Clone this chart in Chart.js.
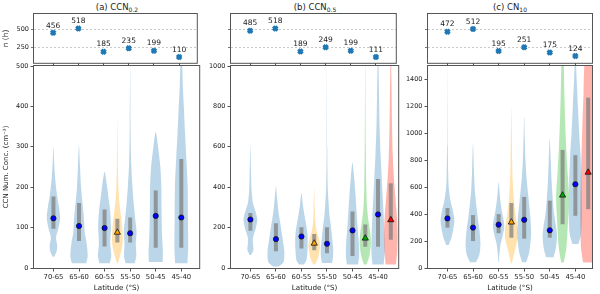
<!DOCTYPE html>
<html lang="en">
<head>
<meta charset="UTF-8">
<title>CCN violins</title>
<script src="https://cdn.jsdelivr.net/npm/chart.js@4.4.1/dist/chart.umd.min.js"></script>
<style>
    body { margin: 0; padding: 0; background: #fff; font-family: "DejaVu Sans", sans-serif; }
    #fig { position: relative; width: 600px; height: 294px; overflow: hidden; }
    #fig canvas { position: absolute; }
    .ttl { position: absolute; top: 2px; width: 120px; font-size: 8.5px; color: #222; text-align: center; white-space: nowrap; }
    .ttl sub { font-size: 6px; vertical-align: -2px; }
</style>
</head>
<body>
<div id="fig">
    <div class="ttl" style="left:57px">(a) CCN<sub>0.2</sub></div>
    <div class="ttl" style="left:255px">(b) CCN<sub>0.5</sub></div>
    <div class="ttl" style="left:450px">(c) CN<sub>10</sub></div>
    <canvas id="top0" width="204" height="70" style="left:0;top:0"></canvas>
    <canvas id="top1" width="203" height="70" style="left:200px;top:0"></canvas>
    <canvas id="top2" width="200" height="70" style="left:400px;top:0"></canvas>
    <canvas id="main0" width="204" height="234" style="left:0;top:60px"></canvas>
    <canvas id="main1" width="203" height="234" style="left:200px;top:60px"></canvas>
    <canvas id="main2" width="200" height="234" style="left:400px;top:60px"></canvas>
</div>
<script>
// latitude bands (category index 0..5)
const latBands = ['70-65', '65-60', '60-55', '55-50', '50-45', '45-40'];

// sampling hours per band
const hoursA = [456, 518, 185, 235, 199, 110];
const hoursB = [485, 518, 189, 249, 199, 111];
const hoursC = [472, 512, 195, 251, 175, 124];

// violins: band position, subset, median, quartiles, density profile [conc, half width]
const violinsA = [
    {x: 0, kind: 'all', med: 123, q1: 97, q3: 177, prof: [[28, 0.03], [40, 0.12], [55, 0.15], [75, 0.1], [100, 0.2], [125, 0.26], [150, 0.22], [180, 0.14], [220, 0.07], [260, 0.03], [300, 0]]},
    {x: 1, kind: 'all', med: 104, q1: 67, q3: 161, prof: [[12, 0.28], [30, 0.34], [60, 0.3], [90, 0.22], [115, 0.2], [140, 0.17], [170, 0.12], [200, 0.08], [250, 0.04], [305, 0]]},
    {x: 2, kind: 'all', med: 99, q1: 53, q3: 145, prof: [[12, 0.2], [30, 0.26], [60, 0.22], [100, 0.25], [140, 0.22], [170, 0.16], [200, 0.1], [238, 0]]},
    {x: 2.5, kind: 'orange', med: 88, q1: 63, q3: 122, prof: [[12, 0.02], [30, 0.1], [50, 0.18], [70, 0.21], [100, 0.19], [130, 0.14], [160, 0.08], [200, 0.04], [250, 0.02], [380, 0]]},
    {x: 3, kind: 'all', med: 86, q1: 63, q3: 125, prof: [[12, 0.18], [30, 0.24], [60, 0.22], [90, 0.25], [120, 0.2], [160, 0.14], [200, 0.09], [260, 0.04], [350, 0.015], [520, 0]]},
    {x: 4, kind: 'all', med: 129, q1: 50, q3: 192, prof: [[15, 0.27], [40, 0.28], [80, 0.25], [130, 0.23], [200, 0.22], [250, 0.18], [300, 0.09], [337, 0]]},
    {x: 5, kind: 'all', med: 125, q1: 50, q3: 270, prof: [[12, 0.24], [50, 0.27], [120, 0.26], [200, 0.25], [270, 0.2], [330, 0.15], [400, 0.1], [450, 0.06], [500, 0.04], [600, 0]]}
];
const violinsB = [
    {x: 0, kind: 'all', med: 240, q1: 185, q3: 272, prof: [[64, 0.03], [90, 0.12], [120, 0.1], [150, 0.1], [190, 0.2], [240, 0.27], [280, 0.2], [320, 0.1], [380, 0.05], [450, 0.03], [610, 0]]},
    {x: 1, kind: 'all', med: 143, q1: 83, q3: 222, prof: [[7, 0.1], [30, 0.3], [80, 0.33], [130, 0.28], [180, 0.22], [230, 0.16], [280, 0.1], [340, 0.05], [403, 0]]},
    {x: 2, kind: 'all', med: 156, q1: 97, q3: 202, prof: [[17, 0.1], [40, 0.2], [100, 0.24], [160, 0.24], [210, 0.19], [260, 0.12], [310, 0.06], [373, 0]]},
    {x: 2.5, kind: 'orange', med: 122, q1: 88, q3: 168, prof: [[17, 0.03], [50, 0.15], [100, 0.22], [140, 0.2], [180, 0.1], [230, 0.04], [300, 0.02], [400, 0]]},
    {x: 3, kind: 'all', med: 120, q1: 73, q3: 202, prof: [[25, 0.2], [60, 0.24], [100, 0.24], [150, 0.2], [200, 0.16], [260, 0.1], [330, 0.06], [400, 0.03], [600, 0.012], [1000, 0]]},
    {x: 4, kind: 'all', med: 186, q1: 60, q3: 280, prof: [[17, 0.22], [60, 0.26], [120, 0.25], [200, 0.2], [280, 0.16], [360, 0.12], [440, 0.07], [522, 0]]},
    {x: 4.5, kind: 'green', med: 147, q1: 105, q3: 215, prof: [[17, 0.05], [60, 0.16], [120, 0.22], [170, 0.2], [230, 0.13], [300, 0.07], [400, 0.04], [600, 0.02], [1050, 0]]},
    {x: 5, kind: 'all', med: 265, q1: 105, q3: 440, prof: [[17, 0.22], [80, 0.26], [160, 0.25], [260, 0.22], [360, 0.18], [460, 0.14], [560, 0.1], [700, 0.06], [850, 0.04], [1000, 0.02], [1100, 0]]},
    {x: 5.5, kind: 'red', med: 238, q1: 140, q3: 420, prof: [[17, 0.2], [80, 0.25], [160, 0.27], [250, 0.24], [350, 0.18], [450, 0.12], [550, 0.08], [700, 0.05], [900, 0.03], [1100, 0]]}
];
const violinsC = [
    {x: 0, kind: 'all', med: 368, q1: 300, q3: 445, prof: [[171, 0.05], [220, 0.15], [280, 0.22], [350, 0.27], [420, 0.22], [500, 0.12], [600, 0.05], [700, 0.03], [900, 0.015], [1500, 0]]},
    {x: 1, kind: 'all', med: 300, q1: 200, q3: 393, prof: [[42, 0.12], [100, 0.25], [180, 0.29], [280, 0.25], [380, 0.18], [480, 0.12], [580, 0.07], [700, 0.04], [928, 0]]},
    {x: 2, kind: 'all', med: 322, q1: 258, q3: 400, prof: [[42, 0.01], [100, 0.03], [180, 0.08], [240, 0.16], [300, 0.22], [350, 0.2], [420, 0.13], [500, 0.07], [580, 0.03], [638, 0]]},
    {x: 2.5, kind: 'orange', med: 340, q1: 225, q3: 483, prof: [[35, 0.02], [120, 0.12], [220, 0.25], [300, 0.24], [400, 0.16], [500, 0.1], [650, 0.05], [800, 0.03], [1200, 0]]},
    {x: 3, kind: 'all', med: 358, q1: 218, q3: 528, prof: [[42, 0.08], [120, 0.2], [250, 0.27], [380, 0.24], [500, 0.18], [650, 0.1], [800, 0.05], [950, 0.025], [1126, 0]]},
    {x: 4, kind: 'all', med: 280, q1: 225, q3: 500, prof: [[80, 0.15], [150, 0.24], [230, 0.28], [300, 0.25], [400, 0.17], [500, 0.12], [650, 0.07], [800, 0.04], [965, 0]]},
    {x: 4.5, kind: 'green', med: 540, q1: 325, q3: 877, prof: [[40, 0.05], [150, 0.15], [300, 0.2], [450, 0.24], [550, 0.25], [700, 0.2], [900, 0.14], [1100, 0.1], [1300, 0.07], [1500, 0.05], [1700, 0]]},
    {x: 5, kind: 'all', med: 622, q1: 388, q3: 838, prof: [[179, 0.12], [250, 0.22], [400, 0.26], [550, 0.25], [700, 0.23], [850, 0.2], [1000, 0.15], [1200, 0.1], [1400, 0.05], [1600, 0]]},
    {x: 5.5, kind: 'red', med: 710, q1: 437, q3: 1265, prof: [[40, 0.2], [150, 0.28], [300, 0.3], [500, 0.3], [700, 0.28], [900, 0.25], [1100, 0.22], [1300, 0.18], [1500, 0.15], [1700, 0]]}
];

const fillCol = {all: 'rgba(31,119,180,0.3)', orange: 'rgba(255,165,0,0.32)', green: 'rgba(40,185,40,0.35)', red: 'rgba(255,60,40,0.38)'};
const markCol = {all: '#0000ff', orange: '#ffa500', green: '#00a800', red: '#ff0000'};

Chart.defaults.font.family = '"DejaVu Sans", sans-serif';
Chart.defaults.color = '#222';
Chart.defaults.animation = false;
Chart.defaults.events = [];
Chart.defaults.plugins.legend.display = false;
Chart.defaults.plugins.tooltip.enabled = false;

// box round every axes
const frame = {
    id: 'frame',
    afterDraw(chart) {
        const a = chart.chartArea, ctx = chart.ctx;
        ctx.save();
        ctx.strokeStyle = '#555';
        ctx.lineWidth = 1;
        ctx.strokeRect(a.left - 0.5, a.top - 0.5, a.right - a.left + 1, a.bottom - a.top + 1);
        ctx.restore();
    }
};

// hour counts written above markers
const countLabels = {
    id: 'countLabels',
    afterDatasetsDraw(chart) {
        const ctx = chart.ctx;
        const ds = chart.data.datasets[0];
        ctx.save();
        ctx.font = '7.5px "DejaVu Sans"';
        ctx.fillStyle = '#222';
        ctx.textAlign = 'center';
        ctx.textBaseline = 'bottom';
        chart.getDatasetMeta(0).data.forEach((pt, i) => {
            ctx.fillText(ds.data[i].y, pt.x, pt.y - 3.5);
        });
        ctx.restore();
    }
};

function bandTicks(scale) {
    scale.ticks = latBands.map((b, i) => ({value: i}));
}

function topChart(id, hours, axW, padR, xMax, showLabels) {
    new Chart(document.getElementById(id), {
        type: 'scatter',
        data: {
            datasets: [{
                data: hours.map((h, i) => ({x: i, y: h})),
                pointStyle: 'crossRot',
                pointRadius: 3,
                borderWidth: 3.2,
                borderColor: '#1f77b4',
                backgroundColor: '#1f77b4'
            }]
        },
        options: {
            responsive: false,
            layout: {padding: {top: 14, right: padR, left: 0, bottom: 0}},
            scales: {
                x: {
                    min: -0.76, max: xMax,
                    afterBuildTicks: bandTicks,
                    afterFit: s => { s.height = 4; },
                    ticks: {display: false},
                    grid: {drawOnChartArea: false, tickLength: 3, color: '#555'},
                    border: {display: false}
                },
                y: {
                    min: 27, max: 725,
                    afterBuildTicks: s => { s.ticks = [{value: 250}, {value: 500}]; },
                    afterFit: s => { s.width = axW; },
                    ticks: {display: showLabels, font: {size: 6.5}, padding: 2, callback: v => String(v)},
                    title: {display: showLabels, text: 'n (h)', font: {size: 7.5}, padding: {top: 2, bottom: 0}},
                    grid: {color: '#bbb', lineWidth: 0.8, tickLength: 3, tickColor: '#555', tickBorderDash: []},
                    border: {display: false, dash: [2, 2]}
                }
            }
        },
        plugins: [frame, countLabels]
    });
}

function violinSets(list) {
    const sets = [];
    list.forEach(v => {
        const left = v.prof.map(p => ({x: v.x - p[1], y: p[0]}));
        const right = v.prof.slice(0, -1).reverse().map(p => ({x: v.x + p[1], y: p[0]}));
        sets.push({
            type: 'line', data: left.concat(right), fill: 'shape',
            backgroundColor: fillCol[v.kind], borderWidth: 0, borderColor: 'rgba(0,0,0,0)',
            pointRadius: 0, tension: 0.25, order: 3
        });
        sets.push({
            type: 'line', data: [{x: v.x, y: v.q1}, {x: v.x, y: v.q3}], fill: false,
            borderColor: 'rgba(128,128,128,0.75)', borderWidth: 4, borderCapStyle: 'butt',
            pointRadius: 0, order: 2
        });
        sets.push({
            type: 'scatter', data: [{x: v.x, y: v.med}],
            pointStyle: v.kind === 'all' ? 'circle' : 'triangle',
            pointRadius: v.kind === 'all' ? 2.6 : 3.6,
            backgroundColor: markCol[v.kind], borderColor: '#111', borderWidth: 0.8, order: 1
        });
    });
    return sets;
}

function mainChart(id, list, axW, padR, xMax, yMax, step, showTitle) {
    new Chart(document.getElementById(id), {
        type: 'scatter',
        data: {datasets: violinSets(list)},
        options: {
            responsive: false,
            layout: {padding: {top: 6, right: padR, left: 0, bottom: 0}},
            scales: {
                x: {
                    min: -0.76, max: xMax,
                    afterBuildTicks: bandTicks,
                    afterFit: s => { s.height = 26; },
                    ticks: {font: {size: 6.8}, padding: 1.5, maxRotation: 0, autoSkip: false, callback: v => latBands[v]},
                    title: {display: true, text: 'Latitude (°S)', font: {size: 7.2}, padding: {top: 0, bottom: 2}},
                    grid: {drawOnChartArea: false, tickLength: 3.5, color: '#555'},
                    border: {display: false}
                },
                y: {
                    min: 0, max: yMax,
                    afterFit: s => { s.width = axW; },
                    ticks: {stepSize: step, includeBounds: false, font: {size: 6.5}, padding: 2, callback: v => String(v)},
                    title: {display: showTitle, text: 'CCN Num. Conc. (cm⁻³)', font: {size: 7}, padding: {top: 2, bottom: 0}},
                    grid: {drawOnChartArea: false, tickLength: 3.5, color: '#555'},
                    border: {display: false}
                }
            }
        },
        plugins: [frame]
    });
}

topChart('top0', hoursA, 34, 4, 5.7, true);
topChart('top1', hoursB, 31, 4, 5.79, false);
topChart('top2', hoursC, 28, 8, 5.65, false);

mainChart('main0', violinsA, 34, 4, 5.7, 500, 100, true);
mainChart('main1', violinsB, 31, 4, 5.79, 1000, 200, false);
mainChart('main2', violinsC, 28, 8, 5.65, 1500, 200, false);
</script>
</body>
</html>
